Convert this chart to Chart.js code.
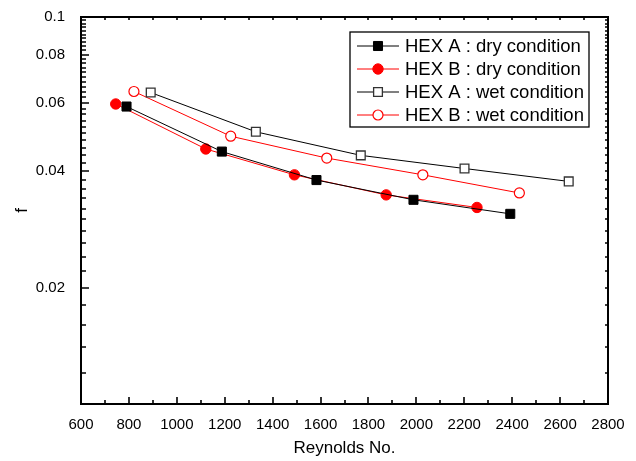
<!DOCTYPE html>
<html>
<head>
<meta charset="utf-8">
<script src="https://cdn.jsdelivr.net/npm/chart.js@4.4.1/dist/chart.umd.min.js"></script>
<style>
    html, body { margin: 0; padding: 0; background: #fff; }
    #wrap { width: 636px; height: 461px; }
</style>
</head>
<body>
<div id="wrap"><canvas id="frictionChart" width="636" height="461"></canvas></div>
<script>
// Dane
const seriesLabels = ['HEX A : dry condition', 'HEX B : dry condition', 'HEX A : wet condition', 'HEX B : wet condition'];

const reHexADry = [790, 1188, 1583, 1988, 2392];
const fHexADry = [0.0587, 0.0449, 0.0379, 0.0337, 0.0310];

const reHexBDry = [745, 1121, 1491, 1874, 2253];
const fHexBDry = [0.0596, 0.0456, 0.0391, 0.0347, 0.0322];

const reHexAWet = [891, 1330, 1768, 2201, 2636];
const fHexAWet = [0.0638, 0.0505, 0.0439, 0.0406, 0.0376];

const reHexBWet = [821, 1225, 1626, 2027, 2430];
const fHexBWet = [0.0642, 0.0492, 0.0432, 0.0391, 0.0351];

const xTickLabels = [600, 800, 1000, 1200, 1400, 1600, 1800, 2000, 2200, 2400, 2600, 2800];
const yTickLabels = [0.02, 0.04, 0.06, 0.08, 0.1];

const FONT = '"Liberation Sans", Arial, sans-serif';

function toPoints(xs, ys) {
    return xs.map((x, i) => ({ x: x, y: ys[i] }));
}

// Znaczniki osi skierowane do wewnątrz + ramka
const frameTicks = {
    id: 'frameTicks',
    afterDraw(chart) {
        const { ctx, chartArea: a, scales: { x, y } } = chart;
        ctx.save();
        ctx.strokeStyle = '#000';
        ctx.lineWidth = 2;
        ctx.strokeRect(a.left, a.top, a.right - a.left, a.bottom - a.top);
        ctx.lineWidth = 1.6;
        ctx.beginPath();
        x.ticks.forEach(t => {
            const px = Math.round(x.getPixelForValue(t.value));
            const len = xTickLabels.includes(t.value) ? 7 : 4;
            ctx.moveTo(px, a.bottom);
            ctx.lineTo(px, a.bottom - len);
            ctx.moveTo(px, a.top);
            ctx.lineTo(px, a.top + 3);
        });
        y.ticks.forEach(t => {
            const py = Math.round(y.getPixelForValue(t.value));
            const len = yTickLabels.includes(t.value) ? 8 : 5;
            ctx.moveTo(a.left, py);
            ctx.lineTo(a.left + len, py);
            ctx.moveTo(a.right, py);
            ctx.lineTo(a.right - 3, py);
        });
        ctx.stroke();
        ctx.restore();
    }
};

// Legenda w ramce wewnątrz obszaru wykresu
const legendBox = {
    id: 'legendBox',
    afterDraw(chart) {
        const { ctx, chartArea: a } = chart;
        const left = a.right - 258;
        const top = a.top + 15;
        const w = 239, h = 95;
        ctx.save();
        ctx.fillStyle = '#fff';
        ctx.fillRect(left, top, w, h);
        ctx.strokeStyle = '#000';
        ctx.lineWidth = 1.3;
        ctx.strokeRect(left, top, w, h);

        chart.data.datasets.forEach((ds, i) => {
            const cy = top + 14 + i * 23;
            ctx.strokeStyle = ds.borderColor;
            ctx.lineWidth = 1;
            ctx.beginPath();
            ctx.moveTo(left + 7, cy);
            ctx.lineTo(left + 49, cy);
            ctx.stroke();

            const mx = left + 28;
            ctx.fillStyle = ds.pointBackgroundColor;
            ctx.strokeStyle = ds.pointBorderColor;
            ctx.lineWidth = ds.pointBorderWidth;
            ctx.beginPath();
            if (ds.pointStyle === 'rect') {
                const s = ds.pointRadius * Math.SQRT1_2;
                ctx.rect(mx - s, cy - s, 2 * s, 2 * s);
            } else {
                ctx.arc(mx, cy, ds.pointRadius, 0, Math.PI * 2);
            }
            ctx.fill();
            ctx.stroke();

            ctx.fillStyle = '#000';
            ctx.font = '18.5px ' + FONT;
            ctx.textBaseline = 'middle';
            ctx.textAlign = 'left';
            ctx.fillText(ds.label, left + 55, cy + 1);
        });
        ctx.restore();
    }
};

const xMinorTicks = [];
for (let v = 600; v <= 2800; v += 100) xMinorTicks.push(v);
const yMinorTicks = [];
for (let k = 6; k <= 50; k++) yMinorTicks.push(k * 2 / 1000);

const ctx = document.getElementById('frictionChart').getContext('2d');
new Chart(ctx, {
    type: 'line',
    data: {
        datasets: [
            {
                label: seriesLabels[0],
                data: toPoints(reHexADry, fHexADry),
                borderColor: '#000000',
                borderWidth: 1,
                pointStyle: 'rect',
                pointRadius: 6.4,
                pointBackgroundColor: '#000000',
                pointBorderColor: '#000000',
                pointBorderWidth: 1
            },
            {
                label: seriesLabels[1],
                data: toPoints(reHexBDry, fHexBDry),
                borderColor: '#ff0000',
                borderWidth: 1,
                pointStyle: 'circle',
                pointRadius: 5.2,
                pointBackgroundColor: '#ff0000',
                pointBorderColor: '#ff0000',
                pointBorderWidth: 1
            },
            {
                label: seriesLabels[2],
                data: toPoints(reHexAWet, fHexAWet),
                borderColor: '#000000',
                borderWidth: 1,
                pointStyle: 'rect',
                pointRadius: 6.2,
                pointBackgroundColor: '#ffffff',
                pointBorderColor: '#333333',
                pointBorderWidth: 1.3
            },
            {
                label: seriesLabels[3],
                data: toPoints(reHexBWet, fHexBWet),
                borderColor: '#ff0000',
                borderWidth: 1,
                pointStyle: 'circle',
                pointRadius: 5,
                pointBackgroundColor: '#ffffff',
                pointBorderColor: '#ff0000',
                pointBorderWidth: 1.2
            }
        ]
    },
    options: {
        responsive: false,
        animation: false,
        devicePixelRatio: 1,
        layout: { padding: { top: 17, right: 28, left: 0, bottom: 0 } },
        plugins: {
            legend: { display: false },
            tooltip: { enabled: false }
        },
        scales: {
            x: {
                type: 'linear',
                min: 600,
                max: 2800,
                afterBuildTicks: scale => {
                    scale.ticks = xMinorTicks.map(v => ({ value: v }));
                },
                afterFit: scale => { scale.height = 57; },
                ticks: {
                    autoSkip: false,
                    maxRotation: 0,
                    padding: 4,
                    color: '#000',
                    font: { family: FONT, size: 15 },
                    callback: v => xTickLabels.includes(v) ? String(v) : ''
                },
                grid: { display: false },
                border: { display: true, color: '#000', width: 2 },
                title: {
                    display: true,
                    text: 'Reynolds No.',
                    color: '#000',
                    font: { family: FONT, size: 17 },
                    padding: { top: 0, bottom: 2 }
                }
            },
            y: {
                type: 'logarithmic',
                min: 0.01,
                max: 0.1,
                afterBuildTicks: scale => {
                    scale.ticks = yMinorTicks.map(v => ({ value: v }));
                },
                afterFit: scale => { scale.width = 81; },
                ticks: {
                    autoSkip: false,
                    padding: 8,
                    color: '#000',
                    font: { family: FONT, size: 15 },
                    callback: v => yTickLabels.includes(v) ? String(v) : ''
                },
                grid: { display: false },
                border: { display: true, color: '#000', width: 2 },
                title: {
                    display: true,
                    text: 'f',
                    color: '#000',
                    font: { family: FONT, size: 17 },
                    padding: { top: 12, bottom: 0 }
                }
            }
        }
    },
    plugins: [frameTicks, legendBox]
});
</script>
</body>
</html>
